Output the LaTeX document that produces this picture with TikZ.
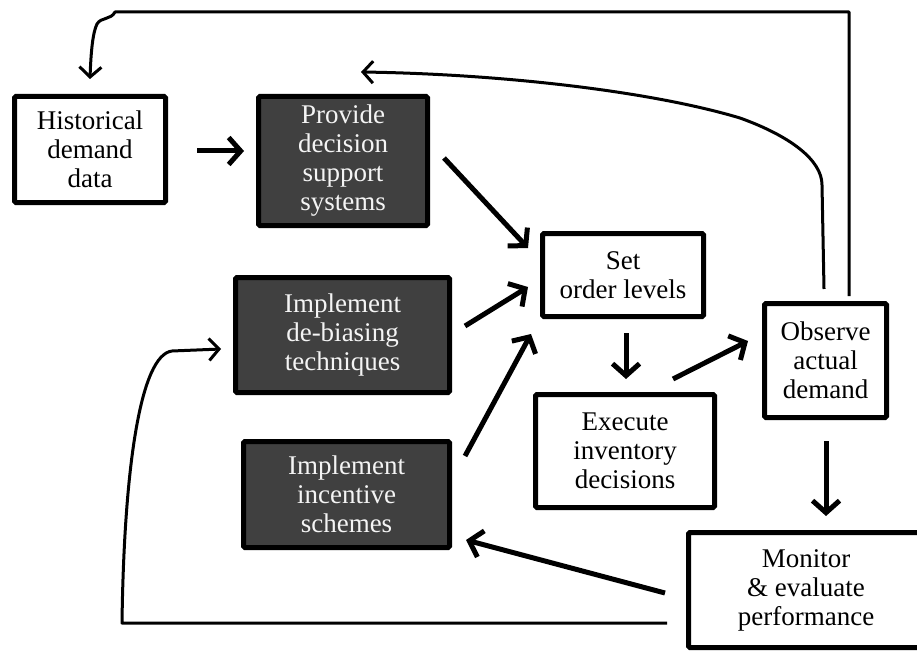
\documentclass[tikz,border=0pt]{standalone}
\usepackage{fontspec}
\setmainfont{Liberation Serif}
\usetikzlibrary{arrows.meta}
\definecolor{boxdark}{HTML}{404040}
\definecolor{boxtext}{HTML}{F4F4F4}
\tikzset{
  box/.style={draw=black, line width=5pt, rounded corners=1.5pt, align=center,
    inner sep=0pt, font=\fontsize{27}{29}\selectfont},
  whitebox/.style={box, fill=white, text=black},
  darkbox/.style={box, fill=boxdark, text=boxtext},
  bigarrow/.style={line width=5pt, -{Straight Barb[length=12pt,width=27pt]}},
  thinarrow/.style={line width=3pt, -{Straight Barb[length=10pt,width=22pt]}},
}
\begin{document}
\begin{tikzpicture}[x=1pt,y=-1pt]
\useasboundingbox (0,0) rectangle (917,655);
\clip (0,0) rectangle (917,655);
\fill[white] (0,0) rectangle (917,655);

% boxes
\node[whitebox, minimum width=151pt, minimum height=106pt] (hist) at (90,149.5) {Historical\\demand\\data};
\node[darkbox, minimum width=169pt, minimum height=129pt] (prov) at (343,161) {Provide\\decision\\support\\systems};
\node[whitebox, minimum width=161pt, minimum height=83pt] (set) at (623,275) {Set\\order levels};
\node[whitebox, minimum width=122pt, minimum height=114pt] (obs) at (825.5,360.5) {Observe\\actual\\demand};
\node[whitebox, minimum width=179pt, minimum height=113pt] (exec) at (625,451) {Execute\\inventory\\decisions};
\node[whitebox, minimum width=235pt, minimum height=115pt] (mon) at (806,590) {Monitor\\\& evaluate\\performance};
\node[darkbox, minimum width=214pt, minimum height=115pt] (debias) at (342.5,335) {Implement\\de-biasing\\techniques};
\node[darkbox, minimum width=206pt, minimum height=106pt] (incent) at (346.5,494.5) {Implement\\incentive\\schemes};

% connector end points
\coordinate (hpS) at (197,151);   \coordinate (hpE) at (244,151);
\coordinate (psS) at (444,158);   \coordinate (psE) at (528,248);
\coordinate (dsS) at (465,326);   \coordinate (dsE) at (528,287);
\coordinate (isS) at (465,456);   \coordinate (isE) at (531,334);
\coordinate (seS) at (626,333);   \coordinate (seE) at (626,379);
\coordinate (eoS) at (673,379);   \coordinate (eoE) at (748,341);
\coordinate (omS) at (826,441);   \coordinate (omE) at (826,516);
\coordinate (miS) at (665,593);   \coordinate (miE) at (466,540);
\coordinate (topS) at (849,296);  \coordinate (topE) at (90,79);
\coordinate (arcS) at (824,289);  \coordinate (arcE) at (361,72);
\coordinate (botS) at (667,623);  \coordinate (botE) at (221,349);

% main arrows
\draw[bigarrow] (hpS) -- (hpE);
\draw[bigarrow] (psS) -- (psE);
\draw[bigarrow] (dsS) -- (dsE);
\draw[bigarrow] (isS) -- (isE);
\draw[bigarrow] (seS) -- (seE);
\draw[bigarrow] (eoS) -- (eoE);
\draw[bigarrow] (omS) -- (omE);
\draw[bigarrow] (miS) -- (miE);

% feedback loops
\draw[thinarrow, line join=round] (topS) -- (849,12) -- (115,12)
  .. controls (111,20) and (101,17) .. (97,24)
  .. controls (93,32) and (91,50) .. (topE);
\draw[thinarrow] (arcS) -- (822,185)
  .. controls (822,160) and (790,136) .. (740,118)
  .. controls (650,91) and (500,74) .. (arcE);
\draw[thinarrow, line join=round] (botS) -- (122,623)
  .. controls (124,470) and (140,355) .. (172,351) -- (botE);
\end{tikzpicture}
\end{document}
